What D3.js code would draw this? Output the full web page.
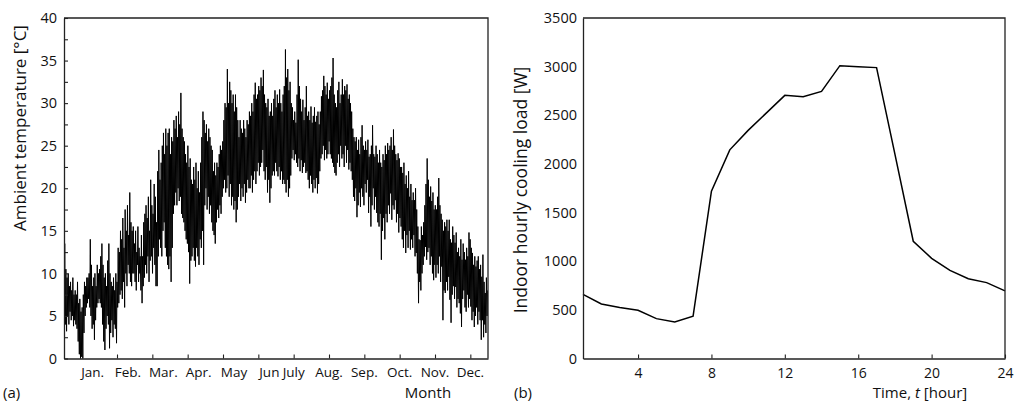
<!DOCTYPE html>
<html><head><meta charset="utf-8">
<script src="https://cdn.jsdelivr.net/npm/d3@7"></script>
<style>
body{margin:0;background:#fff}
text{font-family:"Open Sans","Noto Sans",sans-serif;fill:#111}
</style>
</head><body>
<svg id="c" width="1015" height="407"></svg>
<script>
// ---------------- data ----------------
const months = ["Jan.","Feb.","Mar.","Apr.","May","Jun","July","Aug.","Sep.","Oct.","Nov.","Dec."];
const tempTicks = [0,5,10,15,20,25,30,35,40];
const loadTicks = [0,500,1000,1500,2000,2500,3000,3500];
const hourTicks = [4,8,12,16,20,24];

// daily maximum ambient temperature (°C)
const dailyMax = [
13.5,10.5,9.5,10,8.5,9,8,9.5,7.5,8,
7.5,9,6.5,7,5.5,6,7.5,9,8.5,9.5,
9.5,10,14,11,8.5,9.5,10,8.5,11,10,
10.5,12,13.5,11,9.5,10,8.5,11.5,13.5,10,
9,8.5,9.5,8,10,9,13,12.5,15,14,
16.5,13,17.5,15,18,14.5,19.5,16,15,15.5,
13.5,15,12.5,15.5,13,12,14.5,12,16,17,
18,16.5,19,15,21,18,17,20.5,19,16,
22,24.5,21,23,25,26.5,24,27,25,26.5,
27,24,26,25.5,28,27,28.5,26,29,27.5,
31.2,27,26,25.5,24,23,25,22.5,23.5,21,
20.5,22.5,21,23,20,22,19.5,23,26,29,
28,26.5,27.5,25.5,27,26,25,24.5,22,23,
21.5,23,22.5,24,25,24.5,25.5,28,30,29.5,
34,30,32.5,31.5,30,31,29,31,29.5,28,
26,28,27,26.5,28,27,26,28,27.5,29,
28.5,30,29,31,32.4,30.5,31,32,31.5,33,
32,33.9,31,30,29.5,30.5,28.5,29,30,28.5,
30.5,31.5,29.5,31,30,31.6,30,29,31,32,
36.3,33,34,31.5,32.5,30,29.5,28,29,27.7,
31,35.1,32,30.5,29,30.4,28,29.5,32,28.5,
29,28,29.6,27.7,28.5,29.5,27.8,28.5,29,27.5,
29,30.8,31.5,33.2,32,31,32.4,30.5,31.5,32,
33,35.3,31,30,29.5,31.5,32.5,30,31,32.8,
31,32,31.5,32.2,30.5,31,30,29,27,26,
25.5,26,24.5,25.7,24,26,27.4,25,24.5,25.5,
24.5,25.7,23.7,24,25,27.4,24,23.7,25,24,
23,24.5,23,22.5,24,23.3,25,24,25.3,24.5,
25,26,24.5,26.9,25,24,23.3,24.1,23.5,22.5,
22.5,21.8,23,20.5,21.5,20,22,19,20.5,18.6,
19.5,18.6,20,17.5,15.5,14,13.9,15.5,14.5,16,
18,20.5,23.5,21,19,20.2,18.5,19.5,17.5,18,
17.5,19,21.2,18,17,16.3,15,16,15.5,16.3,
15,16.3,14,13.6,15.5,14.5,13.6,14.8,12.5,13,
12,14,11.6,13.5,12.5,11.6,13,12,14.8,14,
13,12.4,11,12,10.8,11.5,12,10.5,11,9.6,
12.2,9,7.7,9.5,8
];
// daily minimum ambient temperature (°C)
const dailyMin = [
6.5,4,3.2,5,4,5.5,4.5,5,3.8,4.5,
4,3.5,2,0.5,0,0.2,0,3,5,6,
6.5,7,6,5,3.5,4,2.2,4.5,6,6.5,
7,6.5,6,4,2,1,3.5,5,4,1.2,
3,4.5,2.5,4,3.5,1.8,6,6.5,7.5,8,
7,9,6,10,8.5,11,10,9,8.5,10,
10,9,8,11,9,10,8,6.5,8.5,9.5,
11,10,12,9,11.5,12,10,13,11,8.5,
8.5,12,14,13,12,15,16,13,12,11,
10.5,12,9,13,17,18,19.5,18,20,18.5,
19,17,16.5,16,15,14,13.5,12.5,8.8,11.5,
12,13,11.5,10.8,13,12,11,14,13,15,
11,18,20,17.5,19,17,18,16,15,14.5,
13.5,16,17.5,16.5,18,17,19,20,21,19.5,
20,21.5,19,20.5,18,19,17.5,18.5,16,17.5,
19,20.5,18.5,20,19,20.5,18.3,19.5,21,20,
20,21.5,19.5,21,22,20.5,22,23,21.5,22.5,
23,24.5,22,21,22.5,19.5,21,18.3,20,21.5,
22,21.5,23,22,21.4,22.5,21,22,20.5,21,
20.5,19.5,21,19,20,21.5,23.5,24.5,23.3,24,
23,22.5,23.5,22,23.3,21.8,22.5,23,21.8,22,
21,20,21.5,20.5,19.5,21,20,21.2,19.4,20.5,
22,23.5,24,25,23.3,24.5,23.5,24,25.5,24,
23.5,23,22.5,21.8,21.5,23,24,22.5,25,23.5,
24,22.5,25,23,24.5,22.2,23,22,21,19,
18.5,20,16.6,18,19.5,17.8,20,19,18,20.5,
19.5,21,17.1,19,15.5,18,20,17.5,19,17.1,
16,15.5,17,11.6,15,16.5,14,17,16,18,
17,19.4,16.3,18,17.5,18.6,16,17,14.8,16.5,
15.5,14,13,15,12.4,14.5,13,15,12.8,14,
13,14.5,12,12.4,10,6.5,9,8,10,11,
12,13.1,11.6,12.5,13,11,12,10,9.2,11,
9.5,11,10,12,9,10.8,4.5,8,7.7,9,
8,9.6,6.9,4.2,7.5,8.5,7,8.4,6,7,
6.5,5.3,3.7,7,8,6,5.5,7.5,6,7,
6.1,4.5,5.5,3.7,5,6,4,5.5,4.5,2.2,
4.5,2.5,4,3,5
];

// panel (b): hourly indoor cooling load (W)
const hours = [1,2,3,4,5,6,7,8,9,10,11,12,13,14,15,16,17,18,19,20,21,22,23,24];
const coolingLoad = [660,560,525,495,410,375,435,1720,2145,2345,2525,2705,2690,2745,3010,3000,2990,2100,1205,1030,905,820,780,695];

// ---------------- drawing ----------------
const svg = d3.select("#c");
const axisColor = "#222";
const FONT = '"Open Sans","Noto Sans",sans-serif';

function styleAxis(g){
  g.selectAll(".domain").attr("stroke", axisColor).attr("stroke-width", 1.3);
  g.selectAll(".tick line").attr("stroke", axisColor).attr("stroke-width", 1.1);
  g.selectAll(".tick text").attr("fill","#111").style("font-family",FONT);
}

// ===== panel (a) =====
const A = {l:64, r:488, t:18, b:358.5};
const xA = d3.scaleLinear().domain([0, 8760]).range([A.l, A.r]);
const yA = d3.scaleLinear().domain([0, 40]).range([A.b, A.t]);

svg.append("clipPath").attr("id","clipA").append("rect")
  .attr("x",A.l).attr("y",A.t).attr("width",A.r-A.l).attr("height",A.b-A.t+1);

const tempPts = [];
dailyMin.forEach((mn, d) => {
  tempPts.push([d*24 + 5, mn]);
  tempPts.push([d*24 + 15, dailyMax[d]]);
});
svg.append("path").attr("clip-path","url(#clipA)")
  .datum(tempPts)
  .attr("fill","none").attr("stroke","#000").attr("stroke-width",1)
  .attr("stroke-linejoin","miter")
  .attr("d", d3.line().x(p=>xA(p[0])).y(p=>yA(p[1])));

// y axis (a)
const yAxA = svg.append("g").attr("transform",`translate(${A.l},0)`)
  .call(d3.axisLeft(yA).tickValues(d3.range(0,40.01,2.5)).tickSizeInner(-4).tickSizeOuter(0)
    .tickPadding(7).tickFormat(d => tempTicks.includes(d) ? d : ""));
styleAxis(yAxA);
yAxA.selectAll(".tick text").style("font-size","14.5px");

// x axis (a)
const monthTickHours = d3.range(1,12).map(i => 365 + 730*i);
const xAxA = svg.append("g").attr("transform",`translate(0,${A.b})`)
  .call(d3.axisBottom(xA).tickValues(monthTickHours).tickSizeInner(-4).tickSizeOuter(0).tickFormat(""));
styleAxis(xAxA);
// frame
svg.append("path").attr("d",`M${A.l},${A.t}H${A.r}V${A.b}`).attr("fill","none").attr("stroke",axisColor).attr("stroke-width",1.3);

// month labels
svg.append("g").selectAll("text").data(months).join("text")
  .attr("x",(m,i)=> xA(365 + 730*i) + (i < 6 ? 11 : 0))
  .attr("y",377).attr("text-anchor","middle").style("font-size","13.5px").text(m=>m);

svg.append("text").attr("x",428).attr("y",398).attr("text-anchor","middle").style("font-size","15px").text("Month");
svg.append("text").attr("x",3).attr("y",398).style("font-size","15px").text("(a)");
svg.append("text").attr("transform",`translate(26,128) rotate(-90)`)
  .attr("text-anchor","middle").style("font-size","17px").text("Ambient temperature [°C]");

// ===== panel (b) =====
const B = {l:583, r:1005, t:18, b:358.5};
const xB = d3.scaleLinear().domain([1,24]).range([B.l, B.r]);
const yB = d3.scaleLinear().domain([0,3500]).range([B.b, B.t]);

svg.append("path").datum(hours.map((h,i)=>[h, coolingLoad[i]]))
  .attr("fill","none").attr("stroke","#000").attr("stroke-width",1.5).attr("stroke-linejoin","miter")
  .attr("d", d3.line().x(p=>xB(p[0])).y(p=>yB(p[1])));

const yAxB = svg.append("g").attr("transform",`translate(${B.l},0)`)
  .call(d3.axisLeft(yB).tickValues(loadTicks).tickSize(0).tickPadding(6).tickFormat(d3.format("d")));
styleAxis(yAxB);
yAxB.selectAll(".tick text").style("font-size","14.5px");

const xAxB = svg.append("g").attr("transform",`translate(0,${B.b})`)
  .call(d3.axisBottom(xB).tickValues(hourTicks).tickSizeInner(-4).tickSizeOuter(0).tickPadding(10));
styleAxis(xAxB);
xAxB.selectAll(".tick text").style("font-size","14px");
svg.append("path").attr("d",`M${B.l},${B.t}H${B.r}V${B.b}`).attr("fill","none").attr("stroke",axisColor).attr("stroke-width",1.3);

const tl = svg.append("text").attr("x",920).attr("y",398).attr("text-anchor","middle").style("font-size","15px");
tl.append("tspan").text("Time, ");
tl.append("tspan").style("font-style","italic").text("t");
tl.append("tspan").text(" [hour]");
svg.append("text").attr("x",514).attr("y",398).style("font-size","15px").text("(b)");
svg.append("text").attr("transform",`translate(527,190) rotate(-90)`)
  .attr("text-anchor","middle").style("font-size","17.5px").text("Indoor hourly cooling load [W]");
</script>
</body></html>
